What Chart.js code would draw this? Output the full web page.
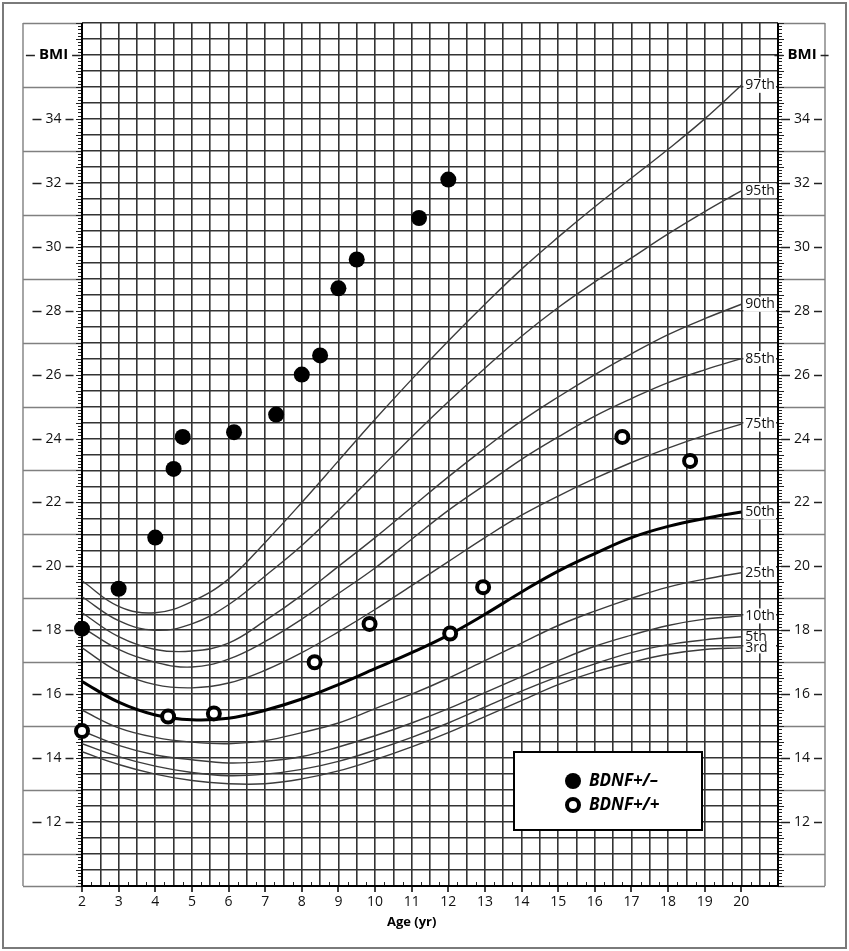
<!DOCTYPE html>
<html>
<head>
<meta charset="utf-8">
<title>BMI-for-age chart</title>
<script src="https://cdn.jsdelivr.net/npm/chart.js@4.4.1/dist/chart.umd.min.js"></script>
<style>
  html, body { margin: 0; padding: 0; background: #fff; }
  #wrap { width: 849px; height: 951px; position: relative; }
</style>
</head>
<body>
<div id="wrap"><canvas id="bmiChart"></canvas></div>
<script>
// Percentile curves, sampled every year from 2 to 20
const ages = [2, 3, 4, 5, 6, 7, 8, 9, 10, 11, 12, 13, 14, 15, 16, 17, 18, 19, 20];
const p97 = [19.55, 18.75, 18.55, 18.9, 19.6, 20.75, 22.0, 23.3, 24.6, 25.85, 27.05, 28.2, 29.3, 30.3, 31.25, 32.15, 33.05, 34.0, 35.05];
const p95 = [19.05, 18.3, 18.0, 18.2, 18.8, 19.7, 20.65, 21.75, 22.9, 24.05, 25.15, 26.2, 27.2, 28.1, 28.9, 29.65, 30.4, 31.1, 31.75];
const p90 = [18.55, 17.8, 17.4, 17.35, 17.6, 18.3, 19.1, 20.0, 20.9, 21.85, 22.8, 23.7, 24.55, 25.3, 26.0, 26.65, 27.25, 27.75, 28.2];
const p85 = [18.1, 17.4, 17.0, 16.85, 17.1, 17.65, 18.35, 19.15, 19.95, 20.85, 21.75, 22.55, 23.35, 24.05, 24.7, 25.25, 25.75, 26.15, 26.5];
const p75 = [17.45, 16.7, 16.3, 16.2, 16.35, 16.75, 17.3, 17.95, 18.65, 19.4, 20.15, 20.9, 21.6, 22.2, 22.75, 23.25, 23.7, 24.1, 24.45];
const p50 = [16.4, 15.75, 15.35, 15.2, 15.25, 15.5, 15.85, 16.3, 16.8, 17.3, 17.85, 18.5, 19.2, 19.85, 20.4, 20.9, 21.25, 21.5, 21.7];
const p25 = [15.5, 14.95, 14.65, 14.5, 14.45, 14.55, 14.8, 15.1, 15.55, 16.0, 16.5, 17.05, 17.6, 18.15, 18.6, 19.0, 19.35, 19.6, 19.8];
const p10 = [14.85, 14.4, 14.1, 13.95, 13.85, 13.9, 14.05, 14.35, 14.7, 15.1, 15.55, 16.05, 16.55, 17.05, 17.5, 17.85, 18.15, 18.35, 18.45];
const p5 = [14.45, 14.05, 13.75, 13.55, 13.45, 13.5, 13.65, 13.9, 14.25, 14.65, 15.1, 15.6, 16.1, 16.55, 16.95, 17.3, 17.55, 17.7, 17.8];
const p3 = [14.2, 13.8, 13.5, 13.3, 13.2, 13.2, 13.35, 13.6, 13.95, 14.35, 14.8, 15.3, 15.8, 16.3, 16.7, 17.0, 17.25, 17.4, 17.45];
const percentileNames = ['97th', '95th', '90th', '85th', '75th', '50th', '25th', '10th', '5th', '3rd'];
const percentileSeries = [p97, p95, p90, p85, p75, p50, p25, p10, p5, p3];

// Patients: BDNF+/- (filled) and BDNF+/+ (open)
const hetAge = [2.0, 3.0, 4.0, 4.5, 4.75, 6.15, 7.3, 8.0, 8.5, 9.0, 9.5, 11.2, 12.0];
const hetBmi = [18.05, 19.3, 20.9, 23.05, 24.05, 24.2, 24.75, 26.0, 26.6, 28.7, 29.6, 30.9, 32.1];
const wtAge = [2.0, 4.35, 5.6, 8.35, 9.85, 12.05, 12.95, 16.75, 18.6];
const wtBmi = [14.85, 15.3, 15.4, 17.0, 18.2, 17.9, 19.35, 24.05, 23.3];

// Axis labels
const xTickLabels = [2, 3, 4, 5, 6, 7, 8, 9, 10, 11, 12, 13, 14, 15, 16, 17, 18, 19, 20];
const yTickLabels = [12, 14, 16, 18, 20, 22, 24, 26, 28, 30, 32, 34];
const xTitle = 'Age (yr)';
const yTitle = 'BMI';

const FONT = "'Open Sans', 'DejaVu Sans', sans-serif";

function toPoints(xs, ys) {
    return xs.map((x, i) => ({ x: x, y: ys[i] }));
}

/**
 * Draw a label with a short dash on each side, like "— 34 —"
 */
function dashedLabel(ctx, text, cx, y, font) {
    ctx.font = font;
    const w = ctx.measureText(text).width;
    ctx.fillText(text, cx, y);
    ctx.beginPath();
    ctx.moveTo(cx - w / 2 - 13, y + 0.5);
    ctx.lineTo(cx - w / 2 - 4, y + 0.5);
    ctx.moveTo(cx + w / 2 + 4, y + 0.5);
    ctx.lineTo(cx + w / 2 + 12, y + 0.5);
    ctx.stroke();
}

// Frame, side panels, ticks, curve labels and legend
const frame = {
    id: 'frame',
    beforeDraw(chart) {
        const ctx = chart.ctx;
        const ca = chart.chartArea;
        const ys = chart.scales.y;
        const panelL = ca.left - 59;
        const panelR = ca.right + 47;
        ctx.save();
        ctx.fillStyle = '#fff';
        ctx.fillRect(0, 0, chart.width, chart.height);

        // outer border
        ctx.strokeStyle = '#7a7a7a';
        ctx.lineWidth = 2;
        ctx.strokeRect(3, 3, chart.width - 6, chart.height - 6);

        // side panels
        ctx.strokeStyle = '#808080';
        ctx.lineWidth = 1.4;
        ctx.beginPath();
        ctx.moveTo(panelL, ca.top);
        ctx.lineTo(panelL, ca.bottom);
        ctx.moveTo(panelR, ca.top);
        ctx.lineTo(panelR, ca.bottom);
        for (let v = ys.min; v <= ys.max; v++) {
            if (v % 2 === 0 && v !== ys.min && v !== ys.max) continue;
            const y = Math.round(ys.getPixelForValue(v)) + 0.5;
            ctx.moveTo(panelL, y);
            ctx.lineTo(ca.left, y);
            ctx.moveTo(ca.right, y);
            ctx.lineTo(panelR, y);
        }
        ctx.stroke();

        // tick labels in the panels
        ctx.fillStyle = '#111';
        ctx.strokeStyle = '#222';
        ctx.lineWidth = 1.3;
        ctx.textAlign = 'center';
        ctx.textBaseline = 'middle';
        const cl = (panelL + ca.left) / 2 + 1;
        const cr = (ca.right + panelR) / 2 + 0.5;
        yTickLabels.forEach(v => {
            const y = Math.round(ys.getPixelForValue(v));
            dashedLabel(ctx, String(v), cl, y, '14px ' + FONT);
            dashedLabel(ctx, String(v), cr, y, '14px ' + FONT);
        });
        const yb = Math.round(ys.getPixelForValue(36));
        ctx.fillStyle = '#000';
        dashedLabel(ctx, yTitle, cl, yb, 'bold 15px ' + FONT);
        dashedLabel(ctx, yTitle, cr, yb, 'bold 15px ' + FONT);
        ctx.restore();
    },
    beforeDatasetsDraw(chart) {
        const ctx = chart.ctx;
        const ca = chart.chartArea;
        const xs = chart.scales.x;
        const ys = chart.scales.y;
        ctx.save();
        ctx.strokeStyle = '#222';
        ctx.lineWidth = 1;
        ctx.beginPath();
        // minor BMI ticks on both axes
        for (let i = Math.round(ys.min * 10); i <= ys.max * 10; i++) {
            const y = Math.round(ys.getPixelForValue(i / 10)) + 0.5;
            const len = i % 5 === 0 ? 6 : 4;
            ctx.moveTo(ca.left - len, y);
            ctx.lineTo(ca.left, y);
            ctx.moveTo(ca.right, y);
            ctx.lineTo(ca.right + len, y);
        }
        // quarter-year ticks on the age axis
        for (let i = xs.min * 4; i <= xs.max * 4; i++) {
            if (i % 2 === 0) continue;
            const x = Math.round(xs.getPixelForValue(i / 4)) + 0.5;
            ctx.moveTo(x, ca.bottom - 4);
            ctx.lineTo(x, ca.bottom);
        }
        ctx.stroke();

        // axis lines
        ctx.strokeStyle = '#000';
        ctx.lineWidth = 2;
        ctx.beginPath();
        ctx.moveTo(ca.left, ca.top);
        ctx.lineTo(ca.left, ca.bottom);
        ctx.lineTo(ca.right, ca.bottom);
        ctx.lineTo(ca.right, ca.top);
        ctx.stroke();

        // yearly ticks and labels
        ctx.lineWidth = 1.5;
        ctx.beginPath();
        xTickLabels.forEach(v => {
            const x = Math.round(xs.getPixelForValue(v));
            ctx.moveTo(x, ca.bottom);
            ctx.lineTo(x, ca.bottom + 6);
        });
        ctx.stroke();
        ctx.fillStyle = '#111';
        ctx.font = '14px ' + FONT;
        ctx.textAlign = 'center';
        ctx.textBaseline = 'middle';
        xTickLabels.forEach(v => {
            ctx.fillText(String(v), xs.getPixelForValue(v), ca.bottom + 16);
        });
        ctx.fillStyle = '#000';
        ctx.font = 'bold 13px ' + FONT;
        ctx.fillText(xTitle, xs.getPixelForValue(11), ca.bottom + 36);
        ctx.restore();
    },
    afterDatasetsDraw(chart) {
        const ctx = chart.ctx;
        const ca = chart.chartArea;
        const xs = chart.scales.x;
        const ys = chart.scales.y;
        const xEnd = xs.getPixelForValue(ages[ages.length - 1]);
        ctx.save();

        // percentile names at the right end of each curve
        ctx.font = '14px ' + FONT;
        ctx.textAlign = 'left';
        ctx.textBaseline = 'middle';
        percentileSeries.forEach((s, i) => {
            const y = ys.getPixelForValue(s[s.length - 1]);
            const h = i >= 8 ? 11 : 15;
            ctx.fillStyle = '#fff';
            ctx.fillRect(xEnd + 2, y - h / 2, ca.right - xEnd - 4, h);
        });
        percentileSeries.forEach((s, i) => {
            const y = ys.getPixelForValue(s[s.length - 1]);
            ctx.fillStyle = '#111';
            ctx.fillText(percentileNames[i], xEnd + 4, y);
        });

        // legend box
        const bx = 514, by = 752, bw = 188, bh = 78;
        ctx.fillStyle = '#fff';
        ctx.fillRect(bx, by, bw, bh);
        ctx.strokeStyle = '#000';
        ctx.lineWidth = 2;
        ctx.strokeRect(bx, by, bw, bh);
        const het = chart.data.datasets[0];
        const wt = chart.data.datasets[1];
        ctx.beginPath();
        ctx.fillStyle = '#000';
        ctx.arc(bx + 59, by + 29, 8, 0, Math.PI * 2);
        ctx.fill();
        ctx.beginPath();
        ctx.lineWidth = 4;
        ctx.fillStyle = '#fff';
        ctx.arc(bx + 59, by + 53, 6, 0, Math.PI * 2);
        ctx.fill();
        ctx.stroke();
        ctx.fillStyle = '#000';
        ctx.font = 'italic bold 17px ' + FONT;
        ctx.fillText(het.label, bx + 75, by + 29);
        ctx.fillText(wt.label, bx + 75, by + 53);
        ctx.restore();
    }
};

const curveSets = percentileSeries.map((s, i) => ({
    label: percentileNames[i],
    data: toPoints(ages, s),
    showLine: true,
    borderColor: i === 5 ? '#000' : '#3c3c3c',
    borderWidth: i === 5 ? 3 : 1.4,
    pointRadius: 0,
    tension: 0.4,
    fill: false
}));

const ctx = document.getElementById('bmiChart').getContext('2d');
new Chart(ctx, {
    type: 'scatter',
    data: {
        datasets: [
            {
                label: 'BDNF+/\u2013',
                data: toPoints(hetAge, hetBmi),
                pointRadius: 8,
                pointBackgroundColor: '#000',
                pointBorderWidth: 0,
                clip: false
            },
            {
                label: 'BDNF+/+',
                data: toPoints(wtAge, wtBmi),
                pointRadius: 6,
                pointBackgroundColor: '#fff',
                pointBorderColor: '#000',
                pointBorderWidth: 4,
                clip: false
            }
        ].concat(curveSets)
    },
    options: {
        responsive: true,
        maintainAspectRatio: false,
        animation: false,
        layout: { padding: { left: 82, right: 71, top: 23, bottom: 65 } },
        scales: {
            x: {
                type: 'linear',
                min: 2,
                max: 21,
                ticks: { display: false, stepSize: 0.5 },
                grid: { color: '#333', lineWidth: 1.6, drawTicks: false },
                border: { display: false }
            },
            y: {
                type: 'linear',
                min: 10,
                max: 37,
                ticks: { display: false, stepSize: 0.5 },
                grid: { color: '#333', lineWidth: 1.6, drawTicks: false },
                border: { display: false }
            }
        },
        plugins: {
            legend: { display: false },
            tooltip: { enabled: false }
        }
    },
    plugins: [frame]
});
</script>
</body>
</html>
